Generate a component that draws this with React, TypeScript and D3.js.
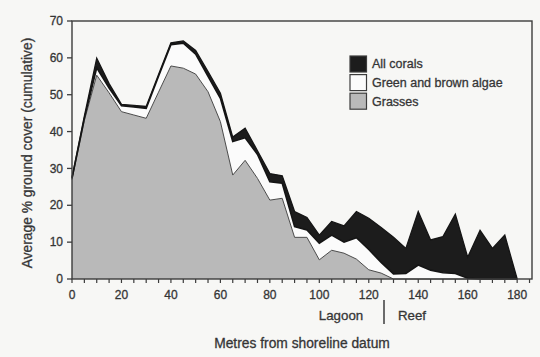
import React from "react";
import * as d3 from "d3";

const distance = [0,5,10,15,20,25,30,35,40,45,50,55,60,65,70,75,80,85,90,95,100,105,110,115,120,125,130,135,140,145,150,155,160,165,170,175,180];
// cumulative readings
const grassTop = [27,43,55.3,50.5,45.4,44.5,43.6,50.7,57.8,57.2,55.6,50.8,42.7,28.2,32.2,27.3,21.4,21.9,11.3,11.3,5.2,7.8,7,5.4,2.5,1.6,0,0,0,0,0,0,0,0,0,0,0];
const algaeTop = [27.3,43.6,57.3,51.8,47,46.7,46.3,55,63.6,64,61,55,49,37.3,38.3,33.8,26.4,26,14.2,13.3,9.7,11.9,10,11.2,8,4.5,1.4,1.5,3.8,2.4,1.7,1.5,0.2,0,0,0,0];
const coralTop = [27.6,44.2,59.9,53,47.4,47.1,46.8,55.5,64.1,64.6,62,56.3,50.4,38.5,40.9,34.8,28.6,28,18.3,16.7,11.9,15.6,14.4,18.3,16.5,14,11.3,8.3,18.3,10.6,11.5,17.6,5.9,13.2,8.3,11.9,0];

const grasses = grassTop;
const algae = algaeTop.map((v, i) => +(v - grassTop[i]).toFixed(2));
const corals = coralTop.map((v, i) => +(v - algaeTop[i]).toFixed(2));

const seriesNames = ["Grasses", "Green and brown algae", "All corals"];
const legendOrder = ["All corals", "Green and brown algae", "Grasses"];
const yTicks = [0,10,20,30,40,50,60,70];
const xLabels = [0,20,40,60,80,100,120,140,160,180];

const W = 540, H = 357;
const L = 72, R = 532, T = 21, B = 279;

export default function App() {
  const x = d3.scaleLinear().domain([0, 186]).range([L, R]);
  const y = d3.scaleLinear().domain([0, 70]).range([B, T]);
  const rows = distance.map((d, i) => ({ d, Grasses: grasses[i], "Green and brown algae": algae[i], "All corals": corals[i] }));
  const stack = d3.stack<any>().keys(seriesNames)(rows);
  const area = d3.area<any>().x((p: any) => x(p.data.d)).y0((p: any) => y(p[0])).y1((p: any) => y(p[1]));
  const line = d3.line<any>().x((p: any) => x(p.data.d)).y((p: any) => y(p[1]));
  const fills: Record<string, string> = { "Grasses": "#b9b9b9", "Green and brown algae": "#fbfbfb", "All corals": "#1c1c1c" };
  const strokes: Record<string, string> = { "Grasses": "#4a4a4a", "Green and brown algae": "#151515", "All corals": "#151515" };
  const sw: Record<string, number> = { "Grasses": 1, "Green and brown algae": 1.6, "All corals": 1.3 };
  const xMinor = d3.range(0, 186, 5);
  const font = "'Liberation Sans', Arial, Helvetica, sans-serif";
  const txt = "#353535";
  const ts = { stroke: txt, strokeWidth: 0.3 };
  return (
    <svg width={W} height={H} style={{ position: "absolute", left: 0, top: 0 }} fontFamily={font}>
      <rect x={0} y={0} width={W} height={H} fill="#f7f7f5" />
      {stack.map((s: any) => (
        <path key={s.key} d={area(s) || ""} fill={fills[s.key]} />
      ))}
      {stack.map((s: any) => (
        <path key={s.key + "l"} d={line(s) || ""} fill="none" stroke={strokes[s.key]} strokeWidth={sw[s.key]} strokeLinejoin="miter" />
      ))}
      <rect x={L} y={T} width={R - L} height={B - T} fill="none" stroke="#3c3c3c" strokeWidth={1.4} />
      {yTicks.map(t => (
        <g key={t}>
          <line x1={L - 5} x2={L} y1={y(t)} y2={y(t)} stroke="#3c3c3c" strokeWidth={1.3} />
          <text x={L - 9} y={y(t)} dy="0.35em" textAnchor="end" fontSize={12} fill={txt} {...ts}>{t}</text>
        </g>
      ))}
      {xMinor.map(t => (
        <line key={t} x1={x(t)} x2={x(t)} y1={B} y2={B + 4} stroke="#3c3c3c" strokeWidth={1.2} />
      ))}
      {xLabels.map(t => (
        <text key={t} x={x(t)} y={B + 16} dy="0.35em" textAnchor="middle" fontSize={12} fill={txt} {...ts}>{t}</text>
      ))}
      <text transform={`translate(27,${153}) rotate(-90)`} textAnchor="middle" dy="0.35em" fontSize={13.8} fill={txt} {...ts}>Average % ground cover (cumulative)</text>
      <text x={302} y={343} dy="0.35em" textAnchor="middle" fontSize={13.8} fill={txt} {...ts}>Metres from shoreline datum</text>
      <text x={341} y={315} dy="0.35em" textAnchor="middle" fontSize={13.3} fill={txt} {...ts}>Lagoon</text>
      <text x={412} y={315} dy="0.35em" textAnchor="middle" fontSize={13.3} fill={txt} {...ts}>Reef</text>
      <line x1={384} x2={384} y1={300} y2={324} stroke="#3c3c3c" strokeWidth={1.5} />
      {legendOrder.map((k, i) => (
        <g key={k}>
          <rect x={350} y={56 + i * 18.6} width={16.5} height={16} fill={fills[k]} stroke="#3c3c3c" strokeWidth={1.2} />
          <text x={372} y={64 + i * 18.6} dy="0.35em" fontSize={12.5} fill={txt} {...ts}>{k}</text>
        </g>
      ))}
    </svg>
  );
}
